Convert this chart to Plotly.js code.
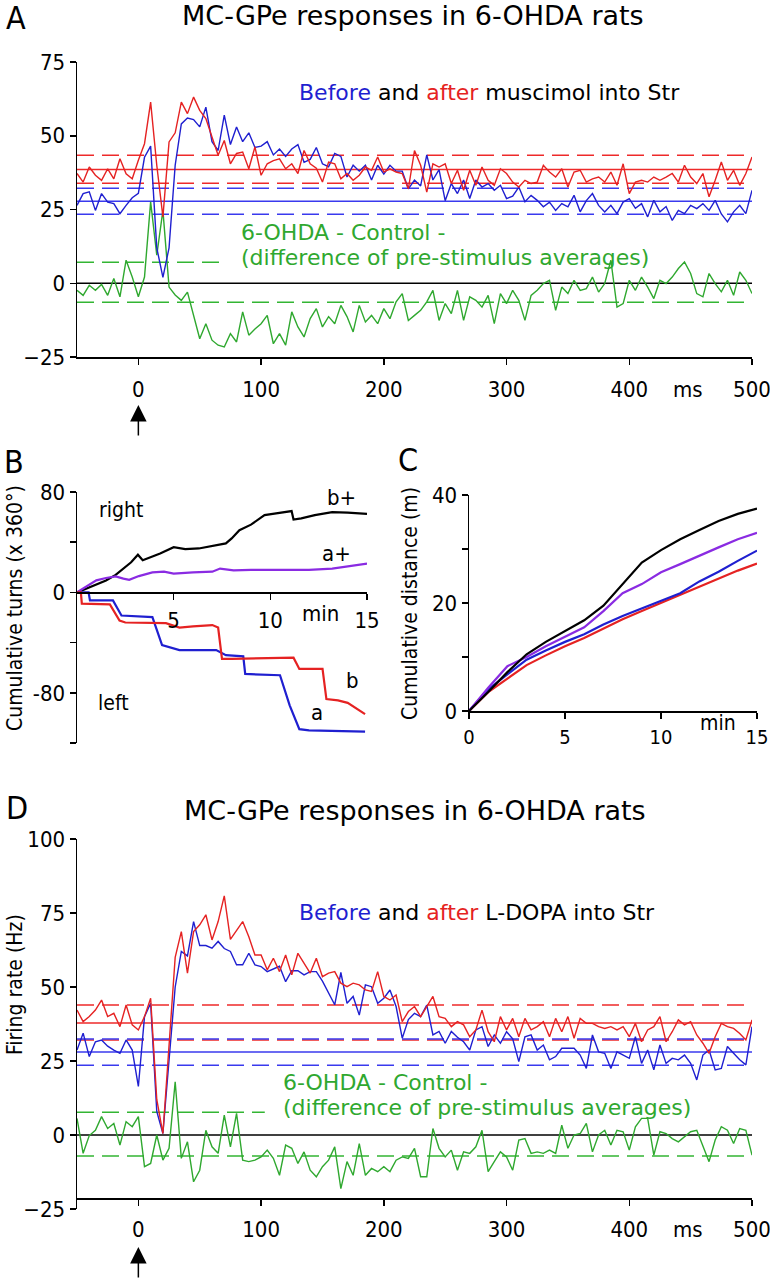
<!DOCTYPE html>
<html>
<head>
<meta charset="utf-8">
<script src="https://cdn.plot.ly/plotly-3.0.1.min.js"></script>
<style>html,body{margin:0;padding:0;background:#fff;}#chart{width:770px;height:1280px;}</style>
</head>
<body>
<div id="chart"></div>
<script>
// ---------- DATA ----------
// Panel A: peri-stimulus firing rate (Hz), 5 ms bins from -50 to 500 ms
const binStartMs = -50, binWidthMs = 5, nBins = 111;
const binMs = Array.from({length: nBins}, (_, i) => binStartMs + binWidthMs * i);

const aBefore = [26.4,30.4,31,24.7,30.4,27.5,27,23.6,26.4,29,
 30.5,42.7,46.5,12,2,12,40,54,56,55.5,
 53,59.7,48,45,57,47,53,48,51,46,
 46.5,48,43.5,45.5,43,45.5,47,41,42,46,
 40.5,39.5,44,43,36,40,38,40,35,40,
 37,40,38,38,32,35,33,43.5,35,38.5,
 28,33.8,30.4,35,28.7,35,32.6,33.8,31.5,33.2,
 28.7,29.5,32.6,27.6,29.8,28.1,25.9,27.5,24.7,27,
 25.9,29.8,24.2,28,30.4,26.4,24.2,26.4,23.6,27.5,
 28.7,25.4,27,22.5,28.1,24.2,26,21.3,24.7,23.6,
 26.4,25.3,27,24.7,28.1,23.5,20.8,24.2,26.4,23.6,
 31.5];
const aAfter = [37.2,34.3,39.4,36.6,34.9,38.8,35.4,42.2,37.1,35.4,
 41.7,47.3,61.4,40,22.5,47.9,51,61.4,57.5,63.1,
 58.6,55.8,49.6,43.4,48.4,40.5,44,44.5,38.8,46.2,
 36.6,40.5,41.6,42.2,38.8,40.5,37.2,45,40.5,39,
 34.3,41.1,40.5,35.4,37.2,34.9,36.6,39.4,38.3,42.8,
 37.7,38.8,37.7,37.2,32,45,40,30.9,40.5,39.4,
 40.5,33.8,38.3,31.5,38.3,33.2,39.4,34.9,33.2,38.8,
 37.2,34.3,32.6,34.9,33.8,34.3,40,37.7,36,38.8,
 32.6,37.7,38.3,34.3,35.4,36,34.3,37.7,33.2,40.5,
 30.4,34.3,34.9,34.3,36,34.9,36,37.2,34.3,40,
 36,33.8,37.2,29.3,34.9,41.1,34.9,38.3,33.2,37.2,
 42.8];
const aDiff = [-2.4,-4.1,-0.7,-2.4,-0.4,-4.1,1.6,-4.6,7.8,2.1,
 -4.6,2.1,27.6,9.5,24.7,-1.3,-4,-5.8,-3,-10.9,
 -18.8,-13.7,-19.3,-21,-21.6,-17.1,-19.9,-9.7,-17.6,-15.5,
 -13.7,-10.9,-20.5,-17.1,-21,-9.7,-14.8,-18.2,-12,-8.6,
 -14.8,-11.3,-13.7,-7.5,-11.3,-16.5,-7.5,-13.1,-10.9,-13.7,
 -8.6,-12,-6.3,-3.5,-12.6,-10.9,-9.2,-6.3,-2.4,-12.6,
 -6.9,-10.3,-2.4,-12.6,-4.6,-5.8,-8.1,-4.1,-13.7,-3.5,
 -6.9,-2.4,-5.8,-12.6,-4.1,-2.4,-0.1,1,-9.2,-1.3,
 -3.5,1,-2.4,-1.8,2.1,-3,-0.1,7.8,-8.1,-6.9,
 1,-2.4,2.1,-1.3,-5.2,1,-0.1,2.1,5,7.2,
 3.3,-3.5,-4.6,3.3,-0.1,-2.9,1,-4.1,3.8,1,
 -3.5];
// reference levels (mean and band) for panel A
const aBeforeLevels = {mean: 27.8, low: 23.4, high: 32.2};
const aAfterLevels  = {mean: 38.6, low: 33.9, high: 43.4};
const aDiffBand     = {low: -6.4, high: 7.1};

// Panel D
const dBefore = [28.7,34.4,26.5,31.5,32.1,30,28.7,27.6,32.1,28.7,
 16.4,40,44.5,8,0.5,26.4,50,62,60.5,72.1,
 64,64,63.1,65.4,63,62,57.5,57.5,61.4,57.5,
 56.9,55.2,56,57,51.8,55.5,55.5,54.1,55.2,55.2,
 52,48,44,54.9,44.5,46.8,40.5,50.7,50.1,44.5,
 46.2,49,43.4,32.7,39,41.1,40,43.9,33.8,35,
 31,35,33,31.5,28.7,35.5,36.6,29.9,33.8,31,
 34.9,32.5,24.8,33.2,33.8,28.7,30.4,25.4,26.5,29.3,
 29.3,29.3,27,22.5,33.8,28.1,27.6,22.5,28.1,27,
 25.9,33.2,24.2,28.7,22,30.4,24.2,25.9,25.4,27,
 24.2,18.6,27,28.7,22,22.5,29.9,27.6,25.4,23.7,
 36.6];
const dAfter = [42.2,38.3,40,42.2,45.6,40,41.1,36.6,43.9,37.2,
 35.5,40,46.2,12,0.5,30,60,68.7,54.7,68.7,
 71,74.4,65.9,72.1,80.8,66.1,69.3,72.1,67,60.8,
 60.8,55.8,59.7,55.2,60.8,54.1,61.4,58,54.7,59.7,
 53.5,54.7,55.2,51.3,50.1,51.3,50.7,49,48.5,55.2,
 46.8,45.6,47.3,38.3,41.7,43.4,40,43.4,46.8,40,
 39.4,36.6,38.3,37.2,33.2,35.5,42.2,34.9,31.5,40,
 35.5,39.4,33.2,39.4,35.5,36.6,38.3,33.2,39.4,34.9,
 40,32.7,39.4,37.7,37.7,36.6,36,36.6,35.5,36.6,
 33.2,37.7,31.5,35.5,36.6,40,31.5,34.9,38.9,37.2,
 38.3,33.8,31,27.6,33.2,37.7,36.6,36,34.3,32.1,
 38.9];
const dDiff = [5.6,-6.2,-0.2,1.6,6.2,2.2,3.9,-3.4,4.5,2.8,
 6.2,-10.7,-9.6,0,-8.5,-4.5,18,-7.9,-2.3,-15.8,
 -11.9,1.6,-4,-6.2,6.7,-4,7.3,-8.5,-9,-8.5,
 -7.4,-5.1,-7.9,-13.6,-3.4,-4.5,-9.6,-5.7,-11.9,-14.1,
 -10.7,-8.5,-4,-18.1,-9,-13.6,-2.9,-13.6,-11.3,-12.4,
 -10.7,-12.4,-8.5,-7.4,-7.9,-4.5,-14.1,-14.1,2.2,-4.5,
 -7.4,-5.1,-11.9,-5.7,-6.2,-4,1.6,-12.4,-9,-5.7,
 -7.4,-11.9,-1.7,-1.2,-6.2,-5.7,-6.2,-5.1,-6.2,3.3,
 -4.5,0,0.5,3.9,-5.7,0,1.6,-3.4,1.6,1.1,
 -5.1,2.8,5.6,5.6,-6.8,1.1,0.5,-1.2,-2.3,-0.6,
 1.1,1.6,-3.4,-9,-1.7,2.8,1.6,-2.9,2.2,1.6,
 -6.8];
const dBeforeLevels = {mean: 28.0, low: 23.6, high: 32.4};
const dAfterLevels  = {mean: 37.8, low: 32.1, high: 43.9};
const dDiffBand     = {low: -7.1, high: 7.7};

// Panel B: cumulative turns (x 360 deg) vs time (min)
const bBplusT = [0,0.5,1,1.5,2,2.5,2.8,3.15,3.4,3.8,4.3,5.0,5.6,6.3,7.0,7.7,8.0,8.4,9.0,9.7,10.3,11.1,11.2,11.6,12.3,13.2,14.0,15];
const bBplusV = [0,3,6.5,9.5,14,20,24,30,25.6,28,31,36,34.5,35,37,39,43,49.6,54,61.6,63,64.8,58,59,61.6,64,63.5,62.5];
const bAplusT = [0,0.5,1.0,1.5,2.0,2.4,2.7,3.2,3.9,4.5,5.0,6.0,7.0,7.4,8.1,9.0,10,11,12,13.2,14,15];
const bAplusV = [0,5,9.6,11.5,12.8,11,10,13,16,16.5,15,16,16.5,19,17.6,18,18,17.8,18,19,21,23];
const bAT = [0,0.6,0.67,1.86,2.3,3.9,4.4,5.3,7.2,7.7,8.6,8.7,10.5,11.0,11.5,12,14.9];
const bAV = [0,0,-6.4,-6.4,-18.4,-19.7,-42,-46,-46,-50,-51,-65,-66,-90,-109,-110,-111];
const bBT = [0,0.2,0.25,1.7,2.2,2.5,4.6,5.3,6.0,7.0,7.3,7.5,8.0,11.2,11.5,12.7,12.9,13.5,14.0,14.5,14.9];
const bBV = [0,0,-9,-9.5,-22.4,-24,-24.5,-28,-27,-26,-28,-53,-53,-52,-61,-61,-85,-86,-88,-93,-97];

// Panel C: cumulative distance (m) vs time (min)
const cTime = [0,1,2,3,4,5,6,7,8,9,10,11,12,13,14,15];
const cBlack  = [0,3.5,7.2,10.5,12.8,14.8,16.8,19.5,23.5,27.5,29.8,31.8,33.5,35.2,36.5,37.5];
const cPurple = [0,4.3,8.3,10,12,13.8,15.5,18.5,21.8,23.5,25.7,27.2,28.8,30.3,31.8,33];
const cBlue   = [0,4,6.8,9.5,11.2,12.8,14.2,16,17.6,19,20.3,21.8,24,25.8,27.8,29.7];
const cRed    = [0,3.5,6,8.5,10.3,12,13.5,15.2,17,18.5,20,21.5,23,24.5,26,27.3];

// ---------- STYLE ----------
const FONT = 'DejaVu Sans Condensed, Liberation Sans Narrow, sans-serif';
const WIDE = 'DejaVu Sans, sans-serif';
const BLUE = '#1f1fd0', RED = '#e52222', GREEN = '#2fa82f', PURPLE = '#8a2be2', BLACK = '#000';
const BLUE_L = '#3a3aee', RED_L = '#ee2a2a', GREEN_L = '#33b533';
const DASH = '17px,8px';
const W = 770, H = 1280;
const px = x => x / W;
const py = y => 1 - y / H;

function tr(x, y, color, xa, ya, w) {
  return {x, y, type: 'scatter', mode: 'lines', xaxis: xa, yaxis: ya,
    line: {color, width: w || 1.4}, hoverinfo: 'skip', showlegend: false};
}
const traces = [
  tr(binMs, aDiff, GREEN, 'x', 'y'),
  tr(binMs, aBefore, BLUE, 'x', 'y'),
  tr(binMs, aAfter, RED, 'x', 'y'),
  tr(bBplusT, bBplusV, BLACK, 'x2', 'y2', 2.2),
  tr(bAplusT, bAplusV, PURPLE, 'x2', 'y2', 2.2),
  tr(bAT, bAV, BLUE, 'x2', 'y2', 2.2),
  tr(bBT, bBV, RED, 'x2', 'y2', 2.2),
  tr(cTime, cRed, RED, 'x3', 'y3', 2.2),
  tr(cTime, cBlue, BLUE, 'x3', 'y3', 2.2),
  tr(cTime, cPurple, PURPLE, 'x3', 'y3', 2.2),
  tr(cTime, cBlack, BLACK, 'x3', 'y3', 2.2),
  tr(binMs, dDiff, GREEN, 'x4', 'y4'),
  tr(binMs, dBefore, BLUE, 'x4', 'y4'),
  tr(binMs, dAfter, RED, 'x4', 'y4'),
];

function hline(xa, ya, y, color, dash, x0, x1) {
  return {type: 'line', xref: xa, yref: ya, x0: x0, x1: x1, y0: y, y1: y,
    line: {color, width: 1.5, dash: dash || 'solid'}, layer: 'below'};
}
const xMin = binMs[0], xMax = binMs[binMs.length - 1];
const shapes = [
  hline('x', 'y', aAfterLevels.high, RED_L, DASH, xMin, xMax),
  hline('x', 'y', aAfterLevels.mean, RED_L, null, xMin, xMax),
  hline('x', 'y', aAfterLevels.low, RED_L, DASH, xMin, xMax),
  hline('x', 'y', aBeforeLevels.high, BLUE_L, DASH, xMin, xMax),
  hline('x', 'y', aBeforeLevels.mean, BLUE_L, null, xMin, xMax),
  hline('x', 'y', aBeforeLevels.low, BLUE_L, DASH, xMin, xMax),
  hline('x', 'y', aDiffBand.high, GREEN_L, DASH, xMin, 71),
  hline('x', 'y', aDiffBand.low, GREEN_L, DASH, xMin, xMax),
  hline('x', 'y', 0, BLACK, null, xMin, xMax),
  hline('x4', 'y4', dAfterLevels.high, RED_L, DASH, xMin, xMax),
  hline('x4', 'y4', dAfterLevels.mean, RED_L, null, xMin, xMax),
  hline('x4', 'y4', dAfterLevels.low, RED_L, DASH, xMin, xMax),
  hline('x4', 'y4', dBeforeLevels.high, BLUE_L, DASH, xMin, xMax),
  hline('x4', 'y4', dBeforeLevels.mean, BLUE_L, null, xMin, xMax),
  hline('x4', 'y4', dBeforeLevels.low, BLUE_L, DASH, xMin, xMax),
  hline('x4', 'y4', dDiffBand.high, GREEN_L, DASH, xMin, 103),
  hline('x4', 'y4', dDiffBand.low, GREEN_L, DASH, xMin, xMax),
  hline('x4', 'y4', 0, BLACK, null, xMin, xMax),
];

const axBase = {showgrid: false, zeroline: false, showline: true, linecolor: '#000', linewidth: 1.5,
  ticks: 'outside', ticklen: 6, tickwidth: 1.5, tickcolor: '#000', ticklabeloverflow: 'allow',
  tickfont: {family: FONT, size: 22, color: '#000'}, fixedrange: true};

function ann(x, y, text, size, opts, family, color) {
  return Object.assign({xref: 'paper', yref: 'paper', x: px(x), y: py(y), text,
    showarrow: false, xanchor: 'left', yanchor: 'middle',
    font: {family: family || FONT, size, color: color || '#000'}}, opts || {});
}
const beforeAfter = (drug) => '<span style="color:' + BLUE + '">Before</span> and <span style="color:' + RED + '">after</span> ' + drug + ' into Str';
const annotations = [
  ann(4, 18, 'A', 32),
  ann(413, 16, 'MC-GPe responses in 6-OHDA rats', 27, {xanchor: 'center'}, WIDE),
  ann(297, 92, beforeAfter('muscimol'), 22, {}, WIDE),
  ann(239, 232, '6-OHDA - Control -', 22, {}, WIDE, GREEN),
  ann(239, 257, '(difference of pre-stimulus averages)', 22, {}, WIDE, GREEN),
  ann(688, 389, 'ms', 22, {xanchor: 'center'}),
  {xref: 'x', yref: 'paper', x: 0, y: py(405), text: '', showarrow: true, ax: 0, ay: 32,
    arrowhead: 2, arrowsize: 2.2, arrowwidth: 1.5, arrowcolor: '#000', standoff: 0},

  ann(2, 462, 'B', 32),
  ann(97, 510, 'right', 21),
  ann(325, 497, 'b+', 22),
  ann(320, 553, 'a+', 22),
  ann(96, 703, 'left', 21),
  ann(344, 680, 'b', 22),
  ann(309, 712, 'a', 22),
  ann(320, 613, 'min', 22, {xanchor: 'center'}),
  ann(15, 608, 'Cumulative turns (x 360°)', 21, {xanchor: 'center', textangle: -90}),

  ann(396, 460, 'C', 32),
  ann(718, 723, 'min', 21, {xanchor: 'center'}),
  ann(410, 603, 'Cumulative distance (m)', 21, {xanchor: 'center', textangle: -90}),

  ann(4, 808, 'D', 32),
  ann(415, 810, 'MC-GPe responses in 6-OHDA rats', 27, {xanchor: 'center'}, WIDE),
  ann(297, 912, beforeAfter('L-DOPA'), 22, {}, WIDE),
  ann(281, 1082, '6-OHDA - Control -', 22, {}, WIDE, GREEN),
  ann(281, 1107, '(difference of pre-stimulus averages)', 22, {}, WIDE, GREEN),
  ann(688, 1229, 'ms', 22, {xanchor: 'center'}),
  ann(15, 985, 'Firing rate (Hz)', 21, {xanchor: 'center', textangle: -90}),
  {xref: 'x4', yref: 'paper', x: 0, y: py(1247), text: '', showarrow: true, ax: 0, ay: 32,
    arrowhead: 2, arrowsize: 2.2, arrowwidth: 1.5, arrowcolor: '#000', standoff: 0},
];

const msTicks = [0, 100, 200, 300, 400, 500];
const layout = {
  width: W, height: H, margin: {l: 0, r: 0, t: 0, b: 0},
  paper_bgcolor: '#fff', plot_bgcolor: 'rgba(0,0,0,0)', showlegend: false,
  font: {family: FONT, size: 22, color: '#000'},
  xaxis: Object.assign({}, axBase, {domain: [px(77), px(752)], range: [-50, 500], anchor: 'y', tickvals: msTicks, ticklabelstandoff: 6}),
  yaxis: Object.assign({}, axBase, {domain: [py(357), py(62)], range: [-25, 75], anchor: 'x', tickvals: [-25, 0, 25, 50, 75]}),
  xaxis2: Object.assign({}, axBase, {domain: [px(77), px(367)], range: [0, 15], anchor: 'free', position: py(592), tickvals: [5, 10, 15], ticklabelstandoff: 2}),
  yaxis2: Object.assign({}, axBase, {domain: [py(743), py(492)], range: [-120, 80], anchor: 'x2',
    tickvals: [-120, -80, -40, 0, 40, 80], ticktext: ['', '-80', '', '0', '', '80']}),
  xaxis3: Object.assign({}, axBase, {domain: [px(469), px(757)], range: [0, 15], anchor: 'y3', tickvals: [0, 5, 10, 15], ticklabelstandoff: 1,
    tickfont: {family: FONT, size: 20, color: '#000'}}),
  yaxis3: Object.assign({}, axBase, {domain: [py(711), py(495)], range: [0, 40], anchor: 'x3',
    tickvals: [0, 10, 20, 30, 40], ticktext: ['0', '', '20', '', '40']}),
  xaxis4: Object.assign({}, axBase, {domain: [px(77), px(752)], range: [-50, 500], anchor: 'free', position: py(1198), tickvals: msTicks, ticklabelstandoff: 5}),
  yaxis4: Object.assign({}, axBase, {domain: [py(1209), py(839)], range: [-25, 100], anchor: 'x4', tickvals: [-25, 0, 25, 50, 75, 100]}),
  shapes, annotations
};
Plotly.newPlot('chart', traces, layout, {staticPlot: true, displayModeBar: false});
</script>
</body>
</html>
